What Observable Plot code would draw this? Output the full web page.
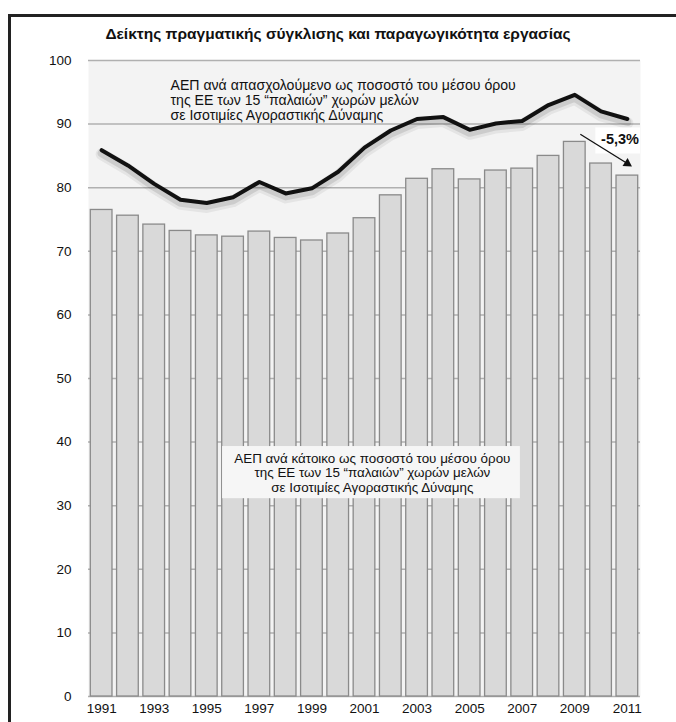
<!DOCTYPE html>
<html>
<head>
<meta charset="utf-8">
<script src="https://cdn.jsdelivr.net/npm/d3@7"></script>
<script src="https://cdn.jsdelivr.net/npm/@observablehq/plot@0.6"></script>
<style>
  html, body { margin: 0; padding: 0; background: #fff; }
  #wrap { position: relative; width: 676px; height: 722px; overflow: hidden; font-family: "Liberation Sans", Arial, sans-serif; }
  #frame { position: absolute; left: 8px; top: 14px; width: 700px; height: 760px; border-left: 3px solid #222; border-top: 3px solid #222; box-sizing: border-box; }
  #title { position: absolute; left: 0; width: 676px; top: 25px; text-align: center; font-weight: bold; font-size: 15.5px; color: #111; }
  #chart { position: absolute; left: 0; top: 0; }
</style>
</head>
<body>
<div id="wrap">
  <div id="frame"></div>
  <div id="chart"></div>
  <div id="title">Δείκτης πραγματικής σύγκλισης και παραγωγικότητα εργασίας</div>
</div>
<script>
const years = d3.range(1991, 2012);
const perCapita = [76.5, 75.6, 74.2, 73.2, 72.5, 72.3, 73.1, 72.1, 71.7, 72.8, 75.2, 78.8, 81.4, 82.9, 81.3, 82.7, 83.0, 85.0, 87.2, 83.8, 81.9];
const perEmployed = [85.9, 83.5, 80.6, 78.1, 77.6, 78.5, 80.9, 79.1, 79.9, 82.5, 86.3, 89.0, 90.8, 91.1, 89.1, 90.1, 90.5, 93.0, 94.6, 92.0, 90.8];
const yTicks = [0, 10, 20, 30, 40, 50, 60, 70, 80, 90, 100];
const xTicks = [1991, 1993, 1995, 1997, 1999, 2001, 2003, 2005, 2007, 2009, 2011];

const labelEmployed = "ΑΕΠ ανά απασχολούμενο ως ποσοστό του μέσου όρου\nτης ΕΕ των 15 “παλαιών” χωρών μελών\nσε Ισοτιμίες Αγοραστικής Δύναμης";
const labelCapita = "ΑΕΠ ανά κάτοικο ως ποσοστό του μέσου όρου\nτης ΕΕ των 15 “παλαιών” χωρών μελών\nσε Ισοτιμίες Αγοραστικής Δύναμης";
const changeLabel = "-5,3%";

// annotation anchors (data units)
const employedLabelPos = [{x: 1993.62, y: 93.8}];
const capitaBox = [{x1: 1995.6, x2: 2006.93, y1: 31.1, y2: 39.3}];
const capitaLabelPos = [{x: 2001.3, y: 35.2}];
const changeBox = [{x1: 2009.8, x2: 2011.5, y1: 85.3, y2: 89.4}];
const changeLabelPos = [{x: 2010.72, y: 87.6}];
const changeArrow = [{x1: 2009.21, y1: 88.4, x2: 2011.0, y2: 83.8}];
const changeHead = [{x: 2011.0, y: 83.8}];

const bars = years.map((year, i) => ({year, value: perCapita[i]}));
const line = years.map((year, i) => ({year, value: perEmployed[i]}));

const font = "'Liberation Sans', Arial, sans-serif";
const chart = Plot.plot({
  width: 676,
  height: 722,
  marginLeft: 88,
  marginRight: 36,
  marginTop: 60,
  marginBottom: 26,
  style: {fontFamily: font, fontSize: "13.5px", color: "#111", background: "transparent"},
  x: {domain: [1990.5, 2011.5], label: null},
  y: {domain: [0, 100], label: null},
  marks: [
    Plot.frame({fill: "#f3f3f3", stroke: null}),
    Plot.gridY(yTicks, {stroke: "#b0b0b0", strokeOpacity: 1, strokeWidth: 1.5}),
    Plot.rectY(bars, {x1: d => d.year - 0.5, x2: d => d.year + 0.5, y: "value", insetLeft: 2.3, insetRight: 2.3, fill: "#d9d9d9", stroke: "#8a8a8a", strokeWidth: 1.3}),
    Plot.axisY(yTicks, {tickSize: 0, tickPadding: 17, fontSize: 13.5, fill: "#111", label: null}),
    Plot.axisX(xTicks, {tickSize: 0, tickPadding: 7, fontSize: 13.5, fill: "#111", tickFormat: d => String(d), label: null}),
    Plot.rect(capitaBox, {x1: "x1", x2: "x2", y1: "y1", y2: "y2", fill: "#f6f6f6"}),
    Plot.text(capitaLabelPos, {x: "x", y: "y", text: () => labelCapita, textAnchor: "middle", lineHeight: 1.08, fontSize: 13.4, fill: "#111"}),
    Plot.line(line, {x: "year", y: "value", stroke: "#000", strokeOpacity: 0.06, strokeWidth: 12, dy: 4}),
    Plot.line(line, {x: "year", y: "value", stroke: "#000", strokeOpacity: 0.1, strokeWidth: 8, dy: 3}),
    Plot.line(line, {x: "year", y: "value", stroke: "#111", strokeWidth: 4}),
    Plot.text(employedLabelPos, {x: "x", y: "y", text: () => labelEmployed, textAnchor: "start", lineHeight: 1.08, fontSize: 14.1, fill: "#111"}),
    Plot.rect(changeBox, {x1: "x1", x2: "x2", y1: "y1", y2: "y2", fill: "#fff"}),
    Plot.text(changeLabelPos, {x: "x", y: "y", text: () => changeLabel, fontWeight: "bold", fontSize: 14.5, fill: "#111"}),
    Plot.link(changeArrow, {x1: "x1", y1: "y1", x2: "x2", y2: "y2", stroke: "#111", strokeWidth: 1.3}),
    Plot.dot(changeHead, {x: "x", y: "y", symbol: "triangle2", r: 4.5, fill: "#111", stroke: null, rotate: 122.6})
  ]
});
document.getElementById("chart").append(chart);
</script>
</body>
</html>
